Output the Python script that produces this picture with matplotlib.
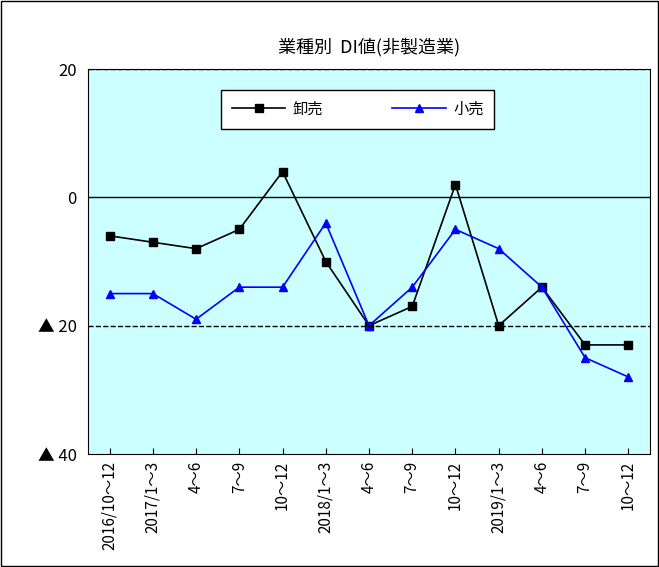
import matplotlib
matplotlib.use("Agg")
import matplotlib.pyplot as plt

plt.rcParams['font.family'] = ['Noto Sans CJK JP', 'DejaVu Sans']

categories = ["2016/10～12", "2017/1～3", "4～6", "7～9", "10～12", "2018/1～3",
              "4～6", "7～9", "10～12", "2019/1～3", "4～6", "7～9", "10～12"]
wholesale = [-6, -7, -8, -5, 4, -10, -20, -17, 2, -20, -14, -23, -23]
retail = [-15, -15, -19, -14, -14, -4, -20, -14, -5, -8, -14, -25, -28]

fig = plt.figure(figsize=(6.59, 5.67), dpi=100)
fig.patch.set_facecolor('white')
fig.add_artist(plt.Rectangle((0.002, 0.002), 0.996, 0.996, fill=False, ec='black', lw=1, transform=fig.transFigure))
ax = fig.add_axes([88/659, 1-454/567, (650-88)/659, (454-69)/567])
ax.set_facecolor('#CCFFFF')
x = list(range(len(categories)))
ax.plot(x, wholesale, color='black', marker='s', markersize=6, lw=1.2, label='卸売')
ax.plot(x, retail, color='blue', marker='^', markersize=6, lw=1.2, label='小売')
ax.set_xlim(-0.5, len(categories) - 0.5)
ax.set_ylim(-40, 20)
ax.set_yticks([20, 0, -20, -40])
ax.set_yticklabels(['20', '0', '▲ 20', '▲ 40'], fontsize=12)
ax.axhline(0, color='black', lw=1)
ax.axhline(20, color='black', lw=1, ls='--')
ax.axhline(-20, color='black', lw=1, ls='--')
ax.set_xticks(x)
ax.set_xticklabels(categories, rotation=90, fontsize=11)
ax.tick_params(axis='x', length=4, direction='in', pad=5)
ax.tick_params(axis='y', length=0, pad=8)
ax.set_title('業種別  DI値(非製造業)', fontsize=13, pad=12)
leg = ax.legend(loc='upper center', bbox_to_anchor=(0.48, 0.965), ncol=2, frameon=True,
                fancybox=False, edgecolor='black', fontsize=11, handlelength=3.5, columnspacing=4.5,
                borderpad=0.7, handletextpad=0.5)
leg.get_frame().set_facecolor('white')
leg.get_frame().set_alpha(1)
fig.savefig('out.png', dpi=100)
